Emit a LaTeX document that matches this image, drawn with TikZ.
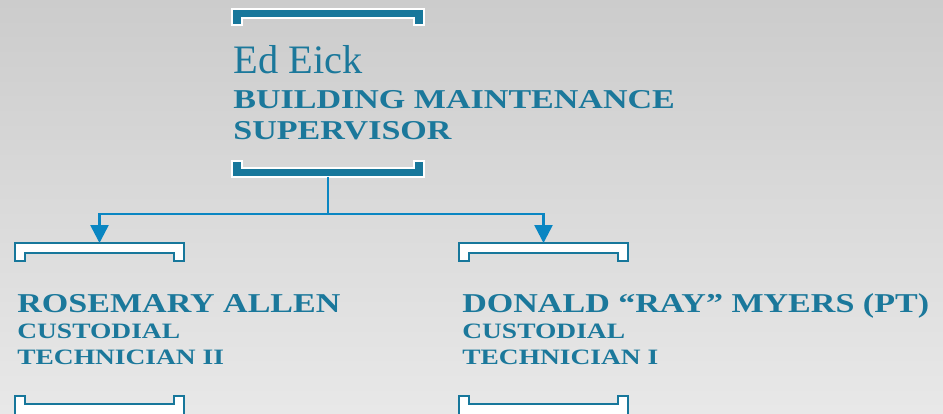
\documentclass[tikz,border=0pt]{standalone}
\usepackage{fontspec}
\setmainfont{Liberation Serif}
\newfontfamily\widecaps[FakeStretch=1.25]{Liberation Serif}
\usetikzlibrary{arrows.meta}
\definecolor{barteal}{HTML}{17779B}
\definecolor{nameteal}{HTML}{1B789B}
\definecolor{linkblue}{HTML}{0A86C2}
\newcommand{\namefont}{\widecaps\bfseries\fontsize{15.5}{18}\selectfont}
\newcommand{\rolefont}{\widecaps\bfseries\fontsize{12.5}{15}\selectfont}

\begin{document}
\begin{tikzpicture}[x=0.02cm,y=-0.02cm,
    txt/.style={anchor=base west,inner sep=0,text=nameteal},
    box/.style={inner sep=0,outer sep=0,minimum width=3.38cm},
    solidbar/.style={fill=barteal,draw=white,line width=1.5pt},
    openbar/.style={fill=white,draw=barteal,line width=1.4pt},
    link/.style={draw=linkblue,line width=0.05cm},
    arrow/.style={link,-{Triangle[width=0.36cm,length=0.36cm]}}]
    \shade[top color=black!20,bottom color=black!9] (0,0) rectangle (943,413);
    \useasboundingbox (0,0) rectangle (943,413);

    % boxes
    \node[box,minimum height=3.38cm] (sup) at (328,92.5) {};
    \node[box,minimum height=3.40cm] (rose) at (99.5,328) {};
    \node[box,minimum height=3.40cm] (don) at (543.5,328) {};

    % brackets
    \draw[solidbar] (232,9) -- ++(192,0) -- ++(0,16) -- ++(-10,0) -- ++(0,-7)
        -- ++(-172,0) -- ++(0,7) -- ++(-10,0) -- cycle;
    \draw[solidbar] (232,161) -- ++(10,0) -- ++(0,7) -- ++(172,0) -- ++(0,-7)
        -- ++(10,0) -- ++(0,16) -- ++(-192,0) -- cycle;
    \foreach \x in {15,459} {
        \draw[openbar] (\x,243) -- ++(169,0) -- ++(0,18) -- ++(-10,0) -- ++(0,-8)
            -- ++(-149,0) -- ++(0,8) -- ++(-10,0) -- cycle;
        \draw[openbar] (\x,396) -- ++(10,0) -- ++(0,8) -- ++(149,0) -- ++(0,-8)
            -- ++(10,0) -- ++(0,20) -- ++(-169,0) -- cycle;
    }

    % texts
    \node[txt,font=\fontsize{23}{26}\selectfont] (supname) at (233,73) {Ed Eick};
    \node[txt,font=\namefont] (suprole1) at (233,108) {BUILDING MAINTENANCE};
    \node[txt,font=\namefont] (suprole2) at (233,139) {SUPERVISOR};
    \node[txt,font=\namefont] (rosename) at (17,312) {ROSEMARY ALLEN};
    \node[txt,font=\rolefont] (roserole1) at (17,338) {CUSTODIAL};
    \node[txt,font=\rolefont] (roserole2) at (17,364) {TECHNICIAN II};
    \node[txt,font=\namefont] (donname) at (462,312) {DONALD “RAY” MYERS (PT)};
    \node[txt,font=\rolefont] (donrole1) at (462,338) {CUSTODIAL};
    \node[txt,font=\rolefont] (donrole2) at (462,364) {TECHNICIAN I};

    % connectors
    \coordinate (split) at (328,214);
    \draw[link] (sup.south) -- (split);
    \draw[arrow] (split) -| (rose.north);
    \draw[arrow] (split) -| (don.north);
\end{tikzpicture}
\end{document}
